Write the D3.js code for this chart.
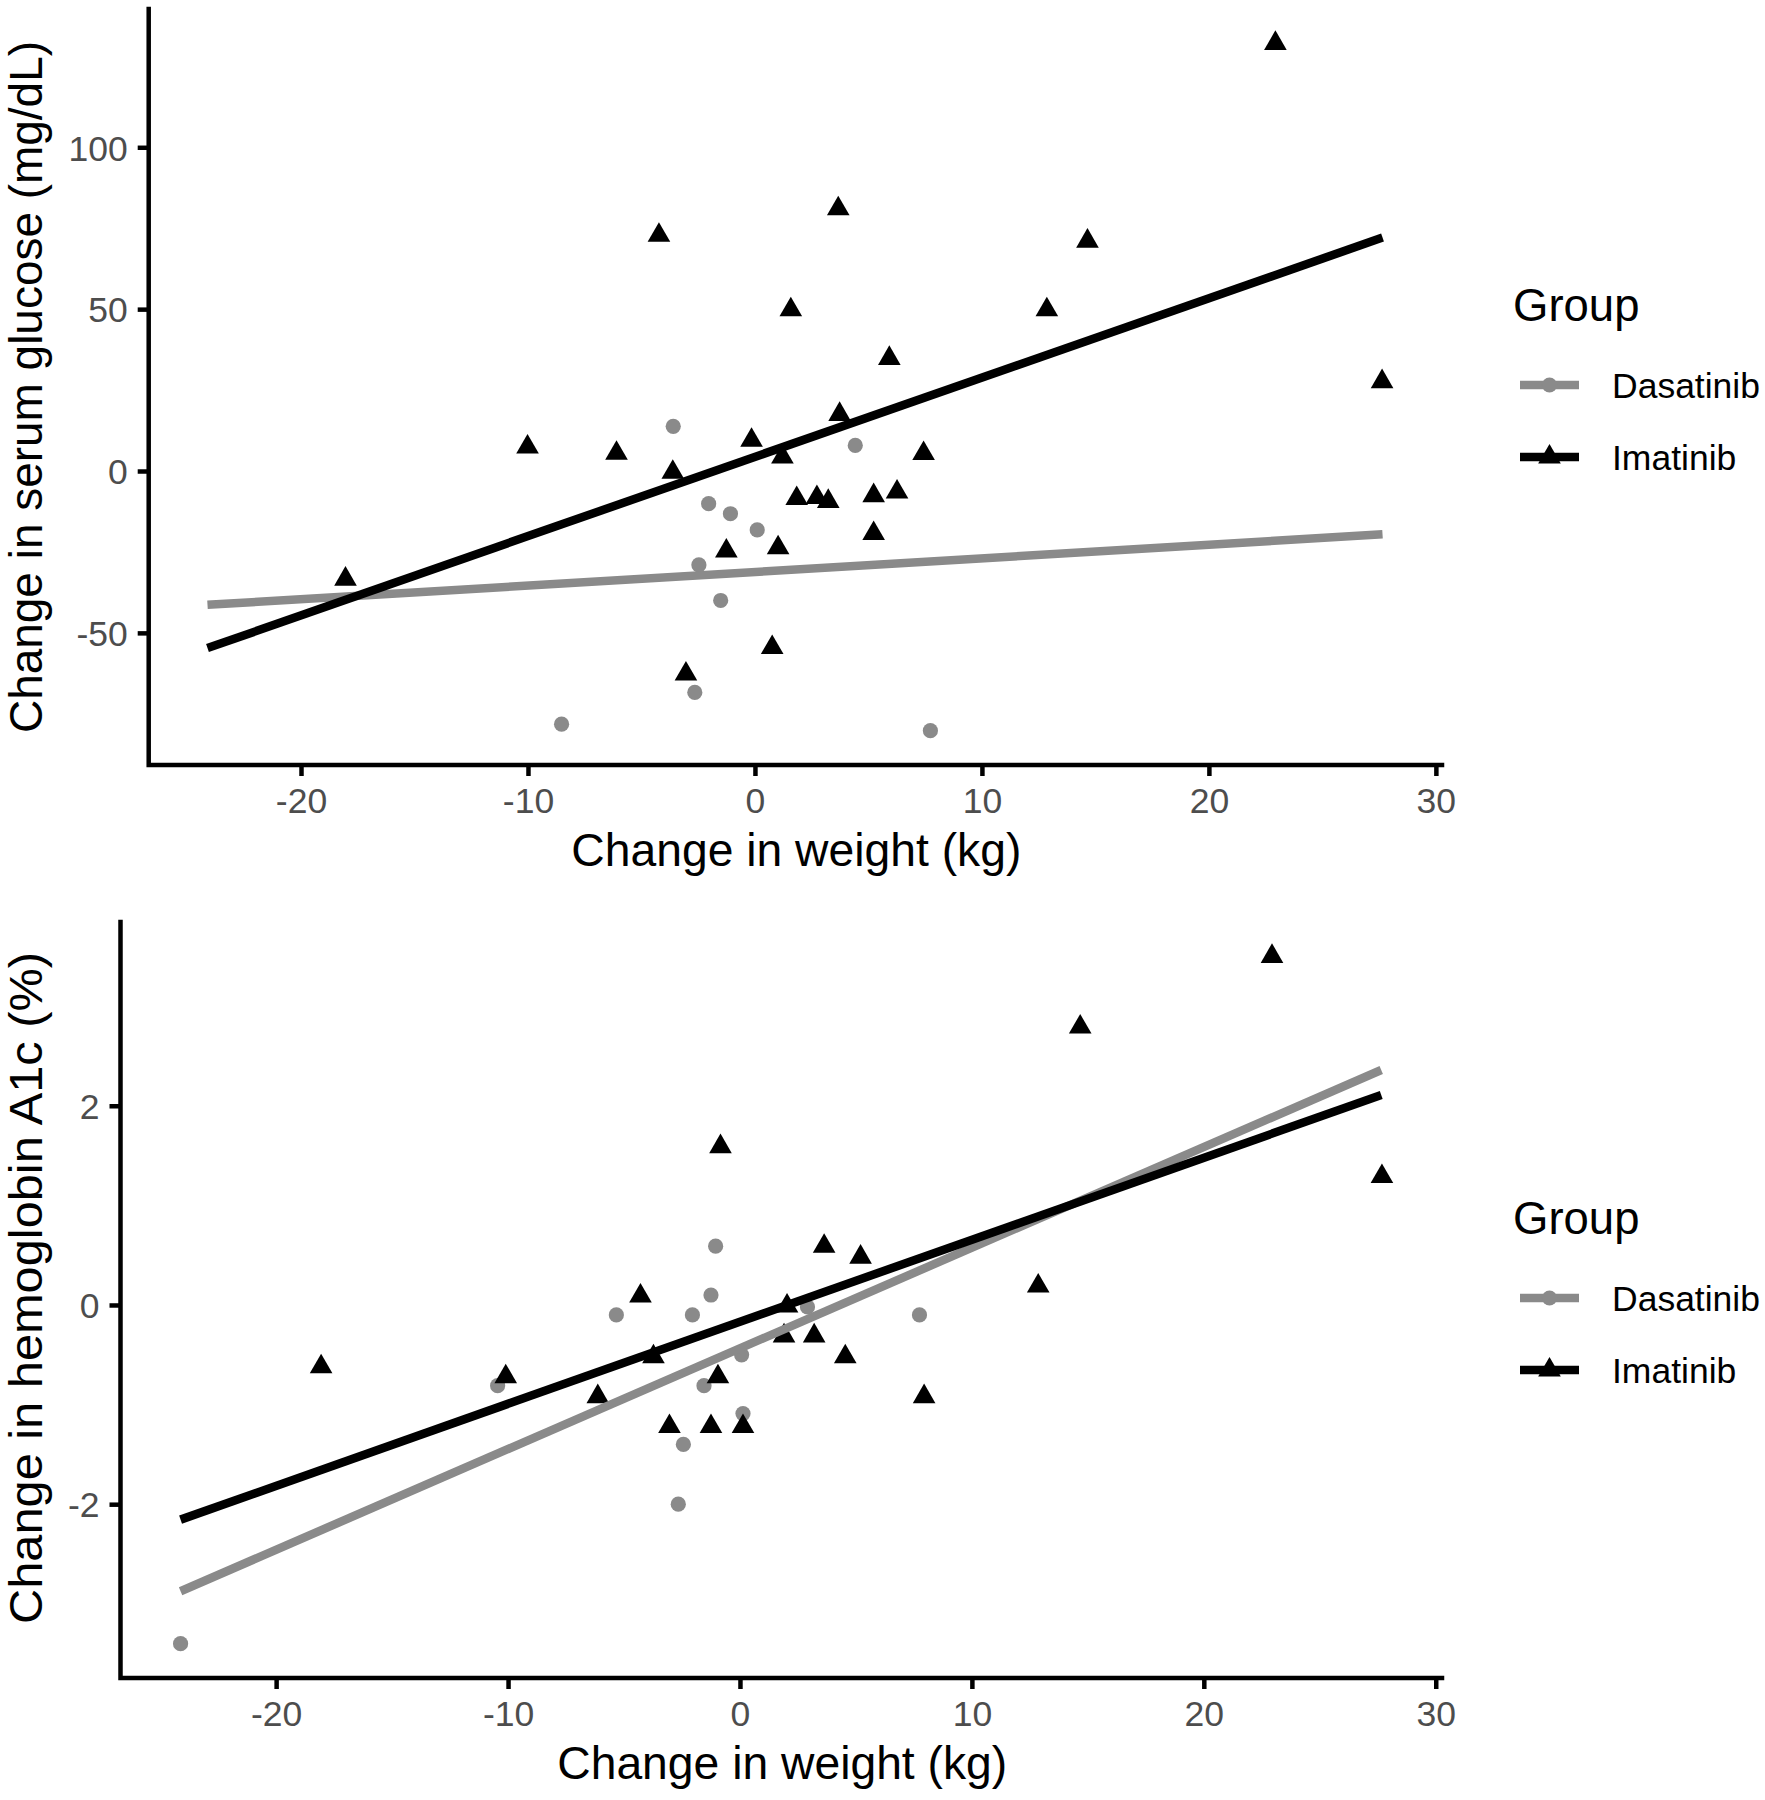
<!DOCTYPE html>
<html>
<head>
<meta charset="utf-8">
<script src="https://cdn.jsdelivr.net/npm/d3@7"></script>
<style>
  html, body { margin: 0; padding: 0; background: #ffffff; }
  svg { display: block; }
  text { font-family: "Liberation Sans", Arial, Helvetica, sans-serif; }
</style>
</head>
<body>
<svg id="chart" width="1765" height="1800"></svg>
<script>
// ---------------- DATA ----------------
const groups = ["Dasatinib", "Imatinib"];
const xTicks = [-20, -10, 0, 10, 20, 30];
const glucoseTicks = [-50, 0, 50, 100];
const a1cTicks = [-2, 0, 2];

const xTitle = "Change in weight (kg)";
const glucoseTitle = "Change in serum glucose (mg/dL)";
const a1cTitle = "Change in hemoglobin A1c (%)";
const legendTitle = "Group";

// Panel 1: change in weight (kg) vs change in serum glucose (mg/dL)
const glucoseDasatinib = [
  [-3.6, 13.8], [4.42, 7.9], [-2.04, -10.1], [-1.08, -13.2], [0.1, -18.2],
  [-2.47, -29.0], [-1.51, -40.0], [-2.65, -68.4], [-8.52, -78.2], [7.73, -80.2]
];
const glucoseImatinib = [
  [22.93, 132.1], [3.67, 81.0], [-4.23, 72.8], [14.65, 71.0], [1.58, 49.8],
  [12.86, 49.8], [5.92, 34.8], [27.63, 27.6], [3.73, 17.5], [-10.02, 7.4],
  [-0.15, 9.5], [-6.1, 5.5], [7.43, 5.4], [-3.62, -0.4], [1.21, 4.3],
  [1.84, -8.5], [2.73, -8.2], [3.23, -9.4], [5.23, -7.6], [6.26, -6.5],
  [5.23, -19.3], [-1.26, -24.7], [1.02, -23.7], [-18.04, -33.4], [0.76, -54.5],
  [-3.04, -62.7]
];
// fitted (lm) lines, endpoints
const glucoseFitDasatinib = [[-24.12, -41.33], [27.65, -19.55]];
const glucoseFitImatinib = [[-24.12, -54.7], [27.65, 72.1]];

// Panel 2: change in weight (kg) vs change in hemoglobin A1c (%)
const a1cDasatinib = [
  [-1.05, 0.59], [-1.25, 0.1], [-5.33, -0.1], [-2.05, -0.1], [7.74, -0.1],
  [2.91, -0.02], [-10.45, -0.81], [-1.55, -0.81], [0.07, -0.5], [0.13, -1.09],
  [-2.44, -1.40], [-2.66, -2.0], [-24.12, -3.40]
];
const a1cImatinib = [
  [22.94, 3.50], [14.67, 2.79], [27.68, 1.29], [-0.84, 1.59], [3.63, 0.59],
  [5.2, 0.48], [12.86, 0.19], [-4.29, 0.09], [2.03, -0.01], [1.9, -0.31],
  [3.2, -0.31], [4.54, -0.52], [-18.06, -0.62], [-10.1, -0.72], [-6.13, -0.92],
  [-3.73, -0.52], [-0.95, -0.72], [-3.04, -1.22], [-1.25, -1.22], [0.13, -1.22],
  [7.94, -0.92]
];
const a1cFitDasatinib = [[-24.12, -2.874], [27.65, 2.359]];
const a1cFitImatinib = [[-24.12, -2.155], [27.65, 2.108]];

// ---------------- STYLE / LAYOUT ----------------
const colors = { Dasatinib: "#8a8a8a", Imatinib: "#000000" };
const tickColor = "#4d4d4d";
const titleSize = 45.5, tickSize = 35.5, legendTextSize = 35.5;
const lineW = 8.5, axisW = 4.5, tickLen = 11;
const circleR = 7.6, triR = 8.4;

const panels = [
  {
    left: 148.7, right: 1442, top: 9, bottom: 765,
    yTicks: glucoseTicks, yTitle: glucoseTitle, yTitleLen: 692, yTitleCenter: 387,
    points: { Dasatinib: glucoseDasatinib, Imatinib: glucoseImatinib },
    fits: { Dasatinib: glucoseFitDasatinib, Imatinib: glucoseFitImatinib }
  },
  {
    left: 120.5, right: 1442, top: 922, bottom: 1678,
    yTicks: a1cTicks, yTitle: a1cTitle, yTitleLen: 672, yTitleCenter: 1288,
    points: { Dasatinib: a1cDasatinib, Imatinib: a1cImatinib },
    fits: { Dasatinib: a1cFitDasatinib, Imatinib: a1cFitImatinib }
  }
];

const svg = d3.select("#chart");

function expand(ext) {
  const d = (ext[1] - ext[0]) * 0.05;
  return [ext[0] - d, ext[1] + d];
}

// common x extent across everything
const allX = [];
panels.forEach(p => groups.forEach(g => {
  p.points[g].forEach(d => allX.push(d[0]));
  p.fits[g].forEach(d => allX.push(d[0]));
}));
const xDomain = expand(d3.extent(allX));

function trianglePath(r) {
  const top = 1.5551 * r, bot = 0.7776 * r, hw = 1.3468 * r;
  return `M0,${-top}L${hw},${bot}L${-hw},${bot}Z`;
}

function drawMarker(sel, g, x, y) {
  if (g === "Dasatinib") {
    sel.append("circle").attr("cx", x).attr("cy", y).attr("r", circleR)
      .attr("fill", colors[g]);
  } else {
    sel.append("path").attr("d", trianglePath(triR))
      .attr("transform", `translate(${x},${y})`).attr("fill", colors[g]);
  }
}

const fmt = d => String(d); // plain hyphen-minus like the reference

panels.forEach((p) => {
  const allY = [];
  groups.forEach(g => {
    p.points[g].forEach(d => allY.push(d[1]));
    p.fits[g].forEach(d => allY.push(d[1]));
  });
  const x = d3.scaleLinear().domain(xDomain).range([p.left, p.right]);
  const y = d3.scaleLinear().domain(expand(d3.extent(allY))).range([p.bottom, p.top]);

  const gP = svg.append("g");

  // points (Dasatinib then Imatinib)
  groups.forEach(g => {
    const layer = gP.append("g");
    p.points[g].forEach(d => drawMarker(layer, g, x(d[0]), y(d[1])));
  });

  // fitted lines
  const line = d3.line().x(d => x(d[0])).y(d => y(d[1]));
  groups.forEach(g => {
    gP.append("path").datum(p.fits[g]).attr("d", line)
      .attr("fill", "none").attr("stroke", colors[g])
      .attr("stroke-width", lineW).attr("stroke-linecap", "butt");
  });

  // axes
  const xAxis = d3.axisBottom(x).tickValues(xTicks).tickFormat(fmt)
    .tickSize(tickLen).tickPadding(11).tickSizeOuter(0);
  const yAxis = d3.axisLeft(y).tickValues(p.yTicks).tickFormat(fmt)
    .tickSize(tickLen).tickPadding(10).tickSizeOuter(0);

  const gx = gP.append("g").attr("transform", `translate(0,${p.bottom})`).call(xAxis);
  const gy = gP.append("g").attr("transform", `translate(${p.left},0)`).call(yAxis);
  [gx, gy].forEach(a => {
    a.select(".domain").remove();
    a.selectAll(".tick line").attr("stroke", "#000").attr("stroke-width", axisW);
    a.selectAll(".tick text").attr("fill", tickColor)
      .style("font-size", tickSize + "px")
      .style("font-family", '"Liberation Sans", Arial, Helvetica, sans-serif');
  });
  gy.selectAll(".tick text").attr("dy", "0.36em");
  gx.selectAll(".tick text").attr("dy", "0.73em");

  // axis lines (L shape)
  gP.append("path")
    .attr("d", `M${p.left},${p.top}L${p.left},${p.bottom}L${p.right},${p.bottom}`)
    .attr("fill", "none").attr("stroke", "#000").attr("stroke-width", axisW)
    .attr("stroke-linecap", "square").attr("stroke-linejoin", "miter");

  // axis titles
  gP.append("text").attr("x", (p.left + p.right) / 2 + 1).attr("y", p.bottom + 101)
    .attr("text-anchor", "middle").attr("fill", "#000")
    .attr("textLength", 450).attr("lengthAdjust", "spacingAndGlyphs")
    .style("font-size", titleSize + "px").text(xTitle);
  gP.append("text")
    .attr("transform", `translate(42,${p.yTitleCenter}) rotate(-90)`)
    .attr("text-anchor", "middle").attr("fill", "#000")
    .attr("textLength", p.yTitleLen).attr("lengthAdjust", "spacingAndGlyphs")
    .style("font-size", titleSize + "px").text(p.yTitle);

  // legend
  const cy = (p.top + p.bottom) / 2;
  const lg = gP.append("g");
  lg.append("text").attr("x", 1513).attr("y", cy - 66)
    .attr("fill", "#000").style("font-size", titleSize + "px").text(legendTitle);
  groups.forEach((g, i) => {
    const ky = cy - 2 + i * 72;
    lg.append("line").attr("x1", 1520).attr("x2", 1579).attr("y1", ky).attr("y2", ky)
      .attr("stroke", colors[g]).attr("stroke-width", lineW);
    drawMarker(lg, g, 1549.5, ky);
    lg.append("text").attr("x", 1612).attr("y", ky).attr("dy", "0.36em")
      .attr("fill", "#000").style("font-size", legendTextSize + "px").text(g);
  });
});
</script>
</body>
</html>
